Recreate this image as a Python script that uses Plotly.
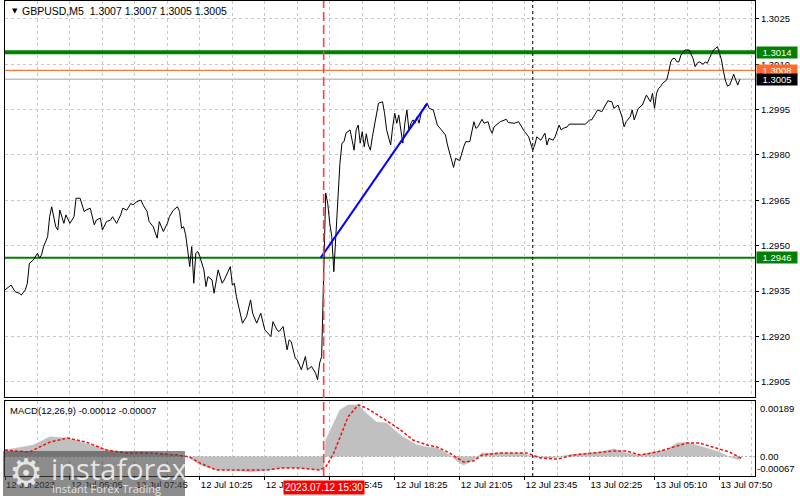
import plotly.graph_objects as go

# ---------------- data ----------------
symbol_header = "GBPUSD,M5  1.3007 1.3007 1.3005 1.3005"
macd_header = "MACD(12,26,9) -0.00012 -0.00007"

time_tick_bars = [0, 32, 64, 96, 128, 160, 192, 224, 256, 288, 320, 352]
time_tick_labels = ["12 Jul 2023", "12 Jul 05:05", "12 Jul 07:45", "12 Jul 10:25",
                    "12 Jul 13:05", "12 Jul 15:45", "12 Jul 18:25", "12 Jul 21:05",
                    "12 Jul 23:45", "13 Jul 02:25", "13 Jul 05:10", "13 Jul 07:50"]
grid_minor_bars = [16, 48, 80, 112, 144, 176, 208, 240, 272, 304, 336, 368]

price_ticks = [1.2905, 1.2920, 1.2935, 1.2950, 1.2965, 1.2980, 1.2995, 1.3010, 1.3025]

# (bar index from 12 Jul 02:25, M5 close)
price_points = [
    (0, 1.29354), (3, 1.29370), (5, 1.29348), (7, 1.29343), (8, 1.29337), (10, 1.29354),
    (11, 1.29376), (12, 1.29442), (14, 1.29453), (16, 1.29475), (17, 1.29459), (18, 1.29470),
    (19, 1.29497), (21, 1.29530), (22, 1.29596), (23, 1.29629), (25, 1.29563), (26, 1.29552),
    (27, 1.29618), (29, 1.29574), (30, 1.29602), (32, 1.29574), (34, 1.29596), (35, 1.29657),
    (37, 1.29657), (39, 1.29613), (40, 1.29618), (42, 1.29624), (44, 1.29569), (45, 1.29585),
    (47, 1.29591), (48, 1.29552), (50, 1.29580), (52, 1.29585), (53, 1.29596), (55, 1.29574),
    (57, 1.29602), (58, 1.29624), (60, 1.29618), (62, 1.29640), (63, 1.29635), (65, 1.29646),
    (67, 1.29651), (68, 1.29635), (70, 1.29613), (71, 1.29580), (73, 1.29563), (75, 1.29525),
    (76, 1.29580), (78, 1.29547), (80, 1.29574), (81, 1.29596), (83, 1.29618), (85, 1.29629),
    (86, 1.29613), (87, 1.29558), (88, 1.29563), (89, 1.29536), (90, 1.29486), (91, 1.29431),
    (92, 1.29497), (93, 1.29376), (94, 1.29475), (95, 1.29481), (96, 1.29464), (98, 1.29420),
    (99, 1.29365), (100, 1.29398), (102, 1.29387), (103, 1.29343), (105, 1.29420), (107, 1.29376),
    (108, 1.29387), (111, 1.29431), (112, 1.29370), (113, 1.29376), (114, 1.29332), (116, 1.29277),
    (117, 1.29244), (119, 1.29266), (121, 1.29321), (122, 1.29277), (124, 1.29244), (126, 1.29277),
    (128, 1.29222), (131, 1.29200), (132, 1.29249), (134, 1.29222), (135, 1.29216), (137, 1.29233),
    (139, 1.29156), (140, 1.29189), (141, 1.29183), (143, 1.29128), (144, 1.29123), (146, 1.29090),
    (148, 1.29134), (149, 1.29090), (151, 1.29101), (153, 1.29079), (154, 1.29057), (155, 1.29112),
    (156, 1.29134), (158, 1.29674), (159, 1.29640), (160, 1.29574), (161, 1.29530), (162, 1.29414),
    (163, 1.29530), (164, 1.29673), (165, 1.29772), (166, 1.29839), (167, 1.29844), (168, 1.29872),
    (170, 1.29883), (171, 1.29849), (172, 1.29816), (173, 1.29883), (174, 1.29899), (175, 1.29839),
    (176, 1.29877), (177, 1.29827), (178, 1.29870), (179, 1.29833), (180, 1.29816), (181, 1.29860),
    (183, 1.29938), (184, 1.29971), (186, 1.29976), (187, 1.29938), (188, 1.29883), (190, 1.29833),
    (191, 1.29893), (192, 1.29938), (193, 1.29905), (194, 1.29932), (195, 1.29883), (196, 1.29839),
    (197, 1.29905), (198, 1.29949), (199, 1.29883), (200, 1.29905), (201, 1.29916), (202, 1.29905),
    (203, 1.29926), (204, 1.29905), (205, 1.29938), (207, 1.29965), (208, 1.29971), (209, 1.29954),
    (211, 1.29949), (212, 1.29926), (213, 1.29899), (215, 1.29883), (217, 1.29866), (218, 1.29833),
    (220, 1.29778), (221, 1.29759), (222, 1.29789), (224, 1.29781), (226, 1.29827), (227, 1.29844),
    (229, 1.29844), (231, 1.29910), (232, 1.29888), (233, 1.29893), (235, 1.29918), (236, 1.29905),
    (238, 1.29910), (239, 1.29885), (240, 1.29872), (241, 1.29893), (244, 1.29910), (245, 1.29913),
    (247, 1.29918), (248, 1.29907), (250, 1.29907), (251, 1.29905), (253, 1.29910), (255, 1.29888),
    (256, 1.29877), (258, 1.29860), (259, 1.29839), (260, 1.29816), (261, 1.29833), (262, 1.29860),
    (264, 1.29849), (265, 1.29860), (266, 1.29872), (267, 1.29833), (268, 1.29855), (270, 1.29849),
    (271, 1.29860), (273, 1.29899), (274, 1.29883), (275, 1.29888), (277, 1.29893), (278, 1.29902),
    (283, 1.29902), (286, 1.29902), (288, 1.29916), (289, 1.29916), (291, 1.29938), (292, 1.29949),
    (294, 1.29943), (296, 1.29965), (297, 1.29979), (299, 1.29976), (300, 1.29954), (302, 1.29965),
    (304, 1.29926), (305, 1.29893), (306, 1.29910), (308, 1.29926), (309, 1.29949), (310, 1.29916),
    (312, 1.29954), (314, 1.29965), (315, 1.29982), (316, 1.29998), (318, 1.29976), (319, 1.30004),
    (320, 1.29954), (321, 1.30004), (322, 1.30020), (323, 1.30026), (324, 1.30037), (326, 1.30048),
    (327, 1.30075), (328, 1.30108), (329, 1.30119), (330, 1.30119), (331, 1.30108), (332, 1.30108),
    (333, 1.30130), (335, 1.30147), (337, 1.30147), (338, 1.30130), (339, 1.30119), (340, 1.30092),
    (341, 1.30103), (342, 1.30108), (344, 1.30100), (345, 1.30108), (346, 1.30103), (347, 1.30119),
    (349, 1.30147), (350, 1.30152), (351, 1.30158), (352, 1.30136), (353, 1.30114), (354, 1.30075),
    (355, 1.30044), (356, 1.30028), (357, 1.30031), (358, 1.30048), (359, 1.30067), (360, 1.30048),
    (361, 1.30031), (362, 1.30050),
]

macd_hist_points = [
    (0, 0.00022), (14, 0.00039), (22, 0.00067), (31, 0.00063), (38, 0.00049), (47, 0.00029),
    (55, 0.00015), (67, 0.00015), (76, 0.00012), (86, 0.00005), (90, 0.0), (96, -0.00029),
    (104, -0.00046), (112, -0.00046), (121, -0.00053), (129, -0.00046), (137, -0.00039),
    (145, -0.00039), (154, -0.00046), (157, -0.00046), (158, 0.00056), (162, 0.00114),
    (165, 0.00159), (169, 0.00176), (174, 0.00176), (178, 0.00148), (183, 0.00118),
    (188, 0.00114), (195, 0.00072), (203, 0.00039), (208, 0.00032), (213, 0.00029),
    (219, 0.00005), (224, -0.00022), (226, -0.00029), (231, -0.00012), (235, 0.00012),
    (244, 0.00012), (255, 0.00012), (260, -0.00002), (265, -0.00005), (270, -0.00005),
    (277, 0.00005), (287, 0.00012), (293, 0.00015), (300, 0.00026), (306, 0.00012),
    (313, 0.00005), (319, 0.00015), (326, 0.00022), (331, 0.00046), (336, 0.00049),
    (341, 0.00039), (347, 0.00026), (352, 0.00015), (357, -0.00002), (362, -0.00012),
]

macd_signal_points = [
    (0, 0.00022), (12, 0.00015), (22, 0.00049), (31, 0.00063), (40, 0.00049), (50, 0.00022),
    (60, 0.00012), (71, 0.00012), (85, 0.00005), (91, -0.00002), (96, -0.00022), (104, -0.00046),
    (112, -0.00046), (121, -0.00046), (129, -0.00046), (137, -0.00039), (145, -0.00039),
    (155, -0.00046), (158, -0.00036), (162, 0.00012), (165, 0.00067), (169, 0.00135),
    (174, 0.00176), (178, 0.00166), (186, 0.00131), (195, 0.00090), (201, 0.00056),
    (208, 0.00039), (213, 0.00032), (219, 0.00012), (226, -0.00019), (231, -0.00015),
    (235, 0.00005), (244, 0.00012), (257, 0.00012), (264, -0.00005), (272, -0.00009),
    (280, 0.00005), (290, 0.00012), (300, 0.00019), (306, 0.00019), (313, 0.00005),
    (321, 0.00015), (329, 0.00032), (336, 0.00046), (342, 0.00046), (351, 0.00026),
    (357, 0.00015), (363, -0.00007),
]

level_high = 1.3014
level_low = 1.2946
level_orange = 1.3008
bid_price = 1.3005
trend_bars = [155.5, 208]
trend_prices = [1.2946, 1.2997]
event_bar = 157
event_label = "2023.07.12 15:30"
day_separator_bar = 260
macd_scale = [0.00189, 0.00, -0.00067]
macd_scale_labels = ["0.00189", "0.00", "-0.00067"]

# ---------------- figure ----------------
FONT = "Liberation Sans, Arial, DejaVu Sans, sans-serif"
FS = 9.5
GRID = "#C8C8C8"
XR = [0, 369.5]

px_bar = [p[0] for p in price_points]
px_close = [p[1] for p in price_points]
h_bar = [p[0] for p in macd_hist_points]
h_val = [p[1] for p in macd_hist_points]
s_bar = [p[0] for p in macd_signal_points]
s_val = [p[1] for p in macd_signal_points]

fig = go.Figure()


def hline(level, color, width, axis_x="x", axis_y="y", dash=None):
    fig.add_trace(go.Scatter(x=XR, y=[level, level], mode="lines",
                             line=dict(color=color, width=width, dash=dash),
                             xaxis=axis_x, yaxis=axis_y, hoverinfo="skip"))


# horizontal levels (beneath price)
hline(bid_price, "#C0C0C0", 1.5)
hline(level_orange, "#F47A3C", 1.2)
hline(level_high, "#008000", 4)
hline(level_low, "#008000", 2)

fig.add_trace(go.Scatter(x=px_bar, y=px_close, mode="lines",
                         line=dict(color="black", width=1), xaxis="x", yaxis="y",
                         hoverinfo="skip"))
fig.add_trace(go.Scatter(x=trend_bars, y=trend_prices, mode="lines",
                         line=dict(color="#0000FF", width=2), xaxis="x", yaxis="y",
                         hoverinfo="skip"))
fig.add_trace(go.Scatter(x=h_bar, y=h_val, mode="lines", fill="tozeroy",
                         fillcolor="#C0C0C0", line=dict(color="#C0C0C0", width=0.5),
                         xaxis="x2", yaxis="y2", hoverinfo="skip"))
hline(0.0, "#B0B0B0", 1, "x2", "y2", "2px,2px")
fig.add_trace(go.Scatter(x=s_bar, y=s_val, mode="lines",
                         line=dict(color="#F01010", width=1.5, dash="3px,2px"),
                         xaxis="x2", yaxis="y2", hoverinfo="skip"))

main_dom = [0.1663, 1.0]
macd_dom = [0.0, 0.1579]

common_x = dict(range=XR, tickvals=time_tick_bars, showgrid=True, gridcolor=GRID,
                griddash="3px,3px", gridwidth=1, zeroline=False, showline=True,
                mirror=True, linecolor="black", linewidth=1,
                minor=dict(tickvals=grid_minor_bars, showgrid=True, gridcolor=GRID,
                           griddash="3px,3px", gridwidth=1))

fig.update_layout(
    width=800, height=496, autosize=False,
    margin=dict(l=5, r=45, t=1, b=20, pad=0),
    paper_bgcolor="white", plot_bgcolor="white",
    showlegend=False,
    font=dict(family=FONT, size=FS, color="black"),
    xaxis=dict(domain=[0, 1], anchor="y", showticklabels=False, ticks="", **common_x),
    xaxis2=dict(domain=[0, 1], anchor="y2", matches="x", showticklabels=True,
                ticktext=time_tick_labels, ticklabelposition="outside right",
                ticks="outside", ticklen=3, tickcolor="black",
                tickfont=dict(family=FONT, size=FS, color="black"), **common_x),
    yaxis=dict(domain=main_dom, range=[1.29000, 1.30309], side="right",
               tickvals=price_ticks, ticktext=[f"{v:.4f}" for v in price_ticks],
               ticks="outside", ticklen=3, tickcolor="black",
               tickfont=dict(family=FONT, size=FS, color="black"),
               showgrid=True, gridcolor=GRID, griddash="3px,3px", zeroline=False,
               showline=True, mirror=True, linecolor="black", linewidth=1),
    yaxis2=dict(domain=macd_dom, range=[-0.000666, 0.001894], side="right",
                showticklabels=False, ticks="", showgrid=False, zeroline=False,
                showline=True, mirror=True, linecolor="black", linewidth=1),
)

shapes = []
shapes.append(dict(type="line", xref="x", yref="paper", x0=day_separator_bar, x1=day_separator_bar,
                   y0=0, y1=1, line=dict(color="black", width=1, dash="3px,3px"), layer="above"))
shapes.append(dict(type="line", xref="x", yref="paper", x0=event_bar, x1=event_bar,
                   y0=0, y1=1, line=dict(color="#FF4040", width=1.6, dash="9px,4px"), layer="above"))
shapes.append(dict(type="rect", xref="paper", yref="paper",
                   x0=(3 - 5) / 750, x1=(185 - 5) / 750, y0=(476 - 496) / 475, y1=(476 - 451) / 475,
                   fillcolor="rgba(70,70,70,0.62)", line=dict(width=0), layer="above"))
fig.update_layout(shapes=shapes)

ann = []
ann.append(dict(xref="paper", yref="paper", x=0, y=1, xshift=5, yshift=-10, xanchor="left",
                yanchor="middle", text="\u25BC", showarrow=False,
                font=dict(family="DejaVu Sans", size=7, color="black")))
ann.append(dict(xref="paper", yref="paper", x=0, y=1, xshift=15, yshift=-10, xanchor="left",
                yanchor="middle", text=symbol_header, showarrow=False,
                font=dict(family=FONT, size=10.5, color="black")))
ann.append(dict(xref="paper", yref="y2 domain", x=0, y=1, xshift=3, yshift=-2, xanchor="left",
                yanchor="top", text=macd_header, showarrow=False,
                font=dict(family=FONT, size=FS, color="black")))
# MACD scale labels: max at top, zero, min at bottom of the indicator window
ann.append(dict(xref="paper", yref="y2 domain", x=1, y=1, xshift=3, xanchor="left", yanchor="top",
                text=macd_scale_labels[0], showarrow=False,
                font=dict(family=FONT, size=FS, color="black")))
ann.append(dict(xref="paper", yref="y2", x=1, y=macd_scale[1], xshift=3, xanchor="left",
                yanchor="middle", text=macd_scale_labels[1], showarrow=False,
                font=dict(family=FONT, size=FS, color="black")))
ann.append(dict(xref="paper", yref="y2 domain", x=1, y=0, xshift=0, xanchor="left", yanchor="bottom",
                text=macd_scale_labels[2], showarrow=False,
                font=dict(family=FONT, size=FS, color="black")))
for v, bg in [(level_high, "#008000"), (level_orange, "#FF6A2A"), (bid_price, "#000000"),
              (level_low, "#008000")]:
    ann.append(dict(xref="paper", yref="y", x=1, y=v, xshift=1, xanchor="left", yanchor="middle",
                    text=f"{v:.4f}", showarrow=False, bgcolor=bg, width=40, height=11,
                    align="center", borderpad=0,
                    font=dict(family=FONT, size=FS, color="white")))
ann.append(dict(xref="x", yref="paper", x=event_bar, y=0, yshift=-11, xanchor="center",
                yanchor="middle", text=event_label, showarrow=False, bgcolor="#FF0000",
                borderpad=1, font=dict(family=FONT, size=FS + 0.5, color="white")))
ann.append(dict(xref="paper", yref="paper", x=(26 - 5) / 750, y=(476 - 473) / 475, xanchor="center",
                yanchor="middle", text="\u2699", showarrow=False,
                font=dict(family="DejaVu Sans", size=38, color="rgba(235,235,235,0.95)")))
ann.append(dict(xref="paper", yref="paper", x=(49 - 5) / 750, y=(476 - 468) / 475, xanchor="left",
                yanchor="middle", text="instaforex", showarrow=False,
                font=dict(family="Open Sans", size=29, color="rgba(235,235,235,0.95)")))
ann.append(dict(xref="paper", yref="paper", x=(50 - 5) / 750, y=(476 - 489) / 475, xanchor="left",
                yanchor="middle", text="Instant Forex Trading", showarrow=False,
                font=dict(family="Open Sans", size=11, color="rgba(235,235,235,0.95)")))
fig.update_layout(annotations=ann)

fig.write_html("out.html", config={"displayModeBar": False},
               post_script="document.body.style.margin='0';document.body.style.overflow='hidden';")
